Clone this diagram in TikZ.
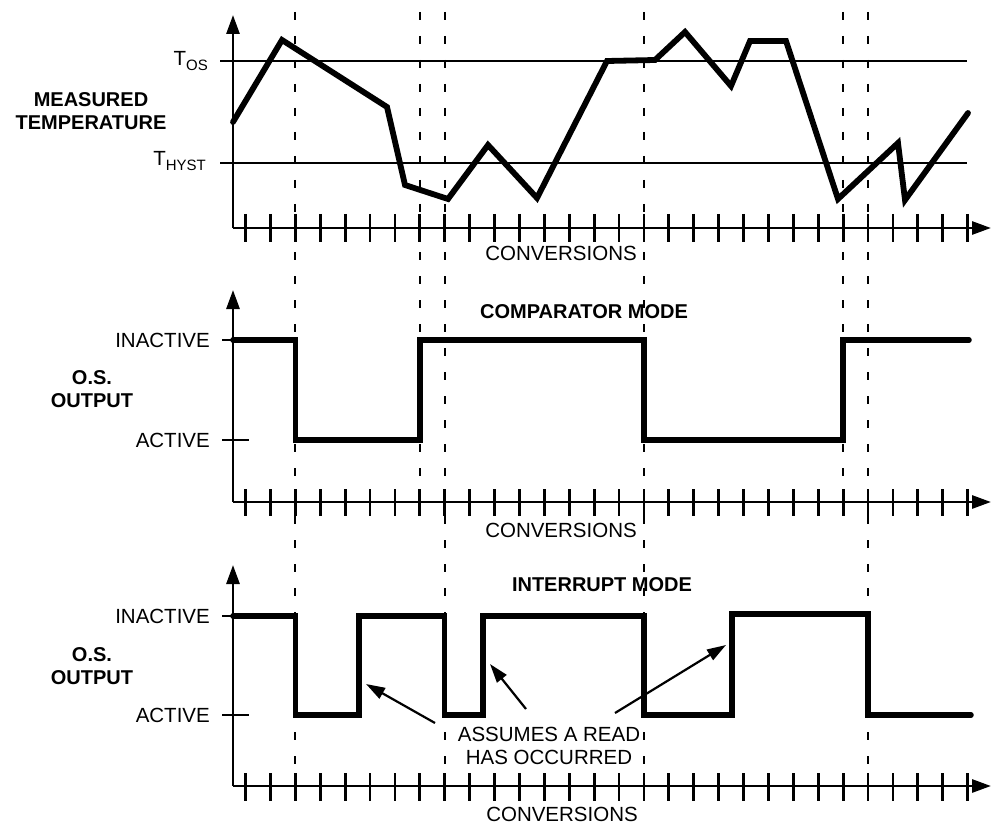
\documentclass[tikz,border=0pt]{standalone}
\usepackage{fontspec}
\setmainfont{Liberation Sans}
\usetikzlibrary{arrows.meta}
\begin{document}
\begin{tikzpicture}[x=1pt,y=-1pt,
  lbl/.style={inner sep=0pt, font=\fontsize{20.5}{23}\selectfont},
  blbl/.style={inner sep=0pt, font=\fontsize{20}{23}\selectfont\bfseries, align=center},
  axis/.style={line width=2.8pt, -{Triangle[length=19pt,width=13pt]}},
  tickmark/.style={line width=2.8pt},
  thresh/.style={line width=2.2pt},
  sig/.style={line width=5.5pt, line join=miter, line cap=round},
  guide/.style={line width=2.3pt, dash pattern=on 8pt off 16pt},
  note/.style={line width=2.2pt, -{Triangle[length=19pt,width=12pt]}}
]
\useasboundingbox (0,0) rectangle (992,826);

% dashed guide lines
\foreach \gx/\gy in {295.3/786, 419.8/502, 444.7/786, 643.9/786, 843.1/502, 868/786}
  \draw[guide] (\gx,12) -- (\gx,\gy);

% ---------- top chart ----------
\coordinate (o1) at (233,228);
\draw[axis] (o1) -- (233,15);
\draw[axis] (o1) -- (991,228);
\foreach \k in {0,...,29} \draw[tickmark] ({245.5+24.9*\k},214) -- ++(0,28);
\draw[thresh] (220,61) -- (967,61);
\draw[thresh] (220,163) -- (967,163);
\node[lbl, anchor=east] (tos) at (208,61) {T\raisebox{-5pt}{\fontsize{15}{15}\selectfont OS}};
\node[lbl, anchor=east] (thyst) at (206,161) {T\raisebox{-5pt}{\fontsize{15}{15}\selectfont HYST}};
\node[blbl] (mt) at (91,111) {MEASURED\\TEMPERATURE};
\node[lbl] (conv1) at (561,253) {CONVERSIONS};
\draw[line width=5.8pt, line join=miter, line cap=round]
  (233,122) -- (282,40) -- (387,107) -- (405,185) -- (448,199) -- (488,145)
  -- (537,198) -- (607,61) -- (655,60) -- (685,32) -- (731,86) -- (750,41)
  -- (786,41) -- (838,199) -- (898,143) -- (905,200) -- (968,113);

% ---------- comparator chart ----------
\coordinate (o2) at (233,502);
\draw[axis] (o2) -- (233,290);
\draw[axis] (o2) -- (991,502);
\foreach \k in {0,...,29} \draw[tickmark] ({245.5+24.9*\k},489) -- ++(0,27);
\draw[thresh] (222,340) -- (233,340);
\draw[thresh] (222,440) -- (249,440);
\node[lbl, anchor=east] (ina2) at (210,340) {INACTIVE};
\node[lbl, anchor=east] (act2) at (210,440) {ACTIVE};
\node[blbl] (os2) at (92,389) {O.S.\\OUTPUT};
\node[blbl] (cmp) at (584,312) {COMPARATOR MODE};
\node[lbl] (conv2) at (561,530) {CONVERSIONS};
\draw[sig] (233,340) -- (295.3,340) -- (295.3,440) -- (419.8,440) -- (419.8,340)
  -- (643.9,340) -- (643.9,440) -- (843.1,440) -- (843.1,340) -- (969,340);

% ---------- interrupt chart ----------
\coordinate (o3) at (233,786);
\draw[axis] (o3) -- (233,565);
\draw[axis] (o3) -- (991,786);
\foreach \k in {0,...,29} \draw[tickmark] ({245.5+24.9*\k},773) -- ++(0,28);
\draw[thresh] (222,616) -- (233,616);
\draw[thresh] (222,715) -- (249,715);
\node[lbl, anchor=east] (ina3) at (210,616) {INACTIVE};
\node[lbl, anchor=east] (act3) at (210,715) {ACTIVE};
\node[blbl] (os3) at (92,666) {O.S.\\OUTPUT};
\node[blbl] (intm) at (602,585) {INTERRUPT MODE};
\node[lbl] (conv3) at (562,814) {CONVERSIONS};
\draw[sig] (233,616) -- (295.3,616) -- (295.3,715) -- (359,715) -- (359,616)
  -- (444.7,616) -- (444.7,715) -- (483,715) -- (483,616) -- (643.9,616)
  -- (643.9,715) -- (732,715) -- (732,614) -- (868,614) -- (868,715) -- (971,715);

% annotation
\node[lbl, align=center] (read) at (549,745.5) {ASSUMES A READ\\HAS OCCURRED};
\coordinate (a1s) at (435,723);
\coordinate (a1e) at (366,684);
\coordinate (a2s) at (526,709);
\coordinate (a2e) at (490,664);
\coordinate (a3s) at (615,713);
\coordinate (a3e) at (726,645);
\draw[note] (a1s) -- (a1e);
\draw[note] (a2s) -- (a2e);
\draw[note] (a3s) -- (a3e);
\end{tikzpicture}
\end{document}
